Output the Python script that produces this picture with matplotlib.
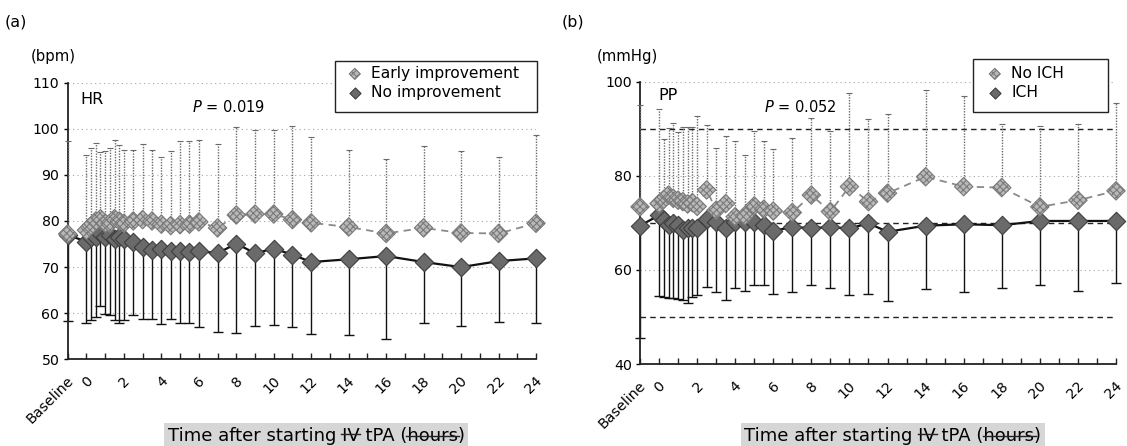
import numpy as np
import matplotlib
matplotlib.use("Agg")
import matplotlib.pyplot as plt
from matplotlib.patches import Rectangle
from matplotlib.lines import Line2D
from matplotlib.transforms import ScaledTranslation

plt.rcParams['font.family'] = ['DejaVu Sans']
plt.rcParams['hatch.color'] = '#555555'
plt.rcParams['hatch.linewidth'] = 0.8

# ---------------- data ----------------
# time after starting IV tPA (hours); -1 stands for "Baseline"
times = [-1, 0, 0.25, 0.5, 0.75, 1, 1.25, 1.5, 1.75, 2, 2.5, 3, 3.5, 4, 4.5,
         5, 5.5, 6, 7, 8, 9, 10, 11, 12, 14, 16, 18, 20, 22, 24]
tick_pos = [-1, 0, 2, 4, 6, 8, 10, 12, 14, 16, 18, 20, 22, 24]
tick_labels = ['Baseline', '0', '2', '4', '6', '8', '10', '12', '14', '16',
               '18', '20', '22', '24']
minor_pos = [1, 3, 5, 7, 9, 11, 13, 15, 17, 19, 21, 23]

# (a) HR (bpm)
hr_early = [77.2, 78.0, 79.0, 80.0, 80.5, 79.5, 79.5, 80.5, 80.0, 79.5, 80.0,
            80.3, 80.0, 79.3, 79.0, 79.2, 79.3, 79.8, 78.5, 81.3, 81.5, 81.5,
            80.3, 79.6, 78.7, 77.3, 78.5, 77.4, 77.3, 79.5]
hr_early_upper = [97.4, 94.4, 95.8, 97.0, 95.0, 95.2, 95.8, 97.5, 96.5, 95.5,
                  95.5, 96.8, 95.5, 93.8, 95.2, 97.3, 97.4, 97.6, 96.6, 100.4,
                  99.7, 99.7, 100.7, 98.3, 95.4, 93.4, 96.3, 95.2, 93.9, 98.6]
hr_none = [77.0, 75.5, 76.5, 76.5, 77.5, 76.5, 77.0, 76.0, 76.5, 76.0, 75.5,
           74.4, 73.8, 74.0, 73.5, 73.4, 73.3, 73.5, 73.0, 75.1, 73.0, 74.0,
           72.7, 71.1, 71.7, 72.4, 71.1, 70.0, 71.3, 71.9]
hr_none_lower = [58.3, 57.9, 58.5, 59.1, 61.5, 59.9, 59.6, 58.6, 57.8, 58.6,
                 59.6, 58.8, 58.8, 57.6, 58.8, 57.9, 57.8, 56.9, 55.9, 55.7,
                 57.2, 57.4, 57.0, 55.4, 55.2, 54.5, 57.8, 57.2, 58.0, 57.8]

# (b) PP (mmHg)
pp_noich = [73.4, 74.1, 75.0, 75.9, 75.2, 74.8, 74.5, 74.0, 74.3, 73.5, 77.0,
            72.7, 74.1, 71.3, 71.5, 73.6, 72.9, 72.5, 72.2, 75.9, 72.4, 77.7,
            74.5, 76.3, 79.8, 77.7, 77.5, 73.4, 74.8, 76.8]
pp_noich_upper = [95.0, 94.3, 87.8, 90.1, 91.3, 89.4, 90.4, 90.3, 90.4, 92.7,
                  90.8, 86.0, 88.4, 87.4, 84.4, 89.6, 87.4, 85.6, 88.1, 92.2,
                  89.6, 97.5, 92.0, 93.1, 98.2, 97.0, 91.1, 90.6, 91.1, 95.5]
pp_ich = [69.4, 71.6, 70.6, 69.5, 70.0, 69.5, 68.4, 68.9, 68.9, 69.0, 70.9,
          70.2, 68.8, 70.2, 70.2, 70.2, 69.5, 68.3, 69.1, 68.9, 69.1, 68.8,
          69.9, 68.1, 69.4, 69.7, 69.5, 70.4, 70.4, 70.4]
pp_ich_lower = [45.6, 54.5, 54.3, 54.0, 54.0, 53.9, 53.7, 52.9, 54.3, 54.6,
                56.3, 55.3, 53.6, 56.2, 55.5, 56.7, 56.7, 54.8, 55.3, 56.7,
                56.2, 54.6, 54.8, 53.3, 55.9, 55.3, 56.2, 56.7, 55.5, 57.2]

W, H = 1127, 446
fig = plt.figure(figsize=(W / 100, H / 100), dpi=100)


def fx(px):
    return px / W


def fy(py):
    return 1 - py / H


axA = fig.add_axes([fx(67.7), fy(359.3), fx(536) - fx(67.7), fy(82.7) - fy(359.3)])
axB = fig.add_axes([fx(640), fy(364), fx(1116) - fx(640), fy(81.7) - fy(364)])

MS = 88
LIGHT_FC = '#b9b9b9'
LIGHT_EC = '#7a7a7a'
DARK_FC = '#6a6a6a'
DARK_EC = '#3e3e3e'


def panel(ax, light, light_up, dark, dark_lo, ylim, yticks, grid_vals):
    t = np.array(times, dtype=float)
    lm = np.array(light)
    lu = np.array(light_up)
    dm = np.array(dark)
    dl = np.array(dark_lo)
    zeros = np.zeros_like(lm)

    for g in grid_vals:
        ax.axhline(g, color='#a5a5a5', lw=0.8, ls=(0, (1, 3)), zorder=0)

    # dark series (drawn first)
    ax.plot(t, dm, color='#111111', lw=1.6, zorder=3, clip_on=False)
    ax.errorbar(t, dm, yerr=[dm - dl, zeros], fmt='none', ecolor='#111111',
                elinewidth=1.0, capsize=3.5, capthick=1.0, zorder=2,
                clip_on=False)
    sd = ax.scatter(t, dm, marker='D', s=MS, facecolor=DARK_FC,
                    edgecolor=DARK_EC, linewidths=0.8, zorder=4, clip_on=False)
    # light series
    ax.plot(t, lm, color='#8a8a8a', lw=1.3, ls=(0, (4, 3)), zorder=5,
            clip_on=False)
    eb = ax.errorbar(t, lm, yerr=[zeros, lu - lm], fmt='none',
                     ecolor='#6a6a6a', elinewidth=1.0, capsize=2.5,
                     capthick=0.8, zorder=5, clip_on=False)
    for c in eb[2]:
        c.set_linestyle((0, (1, 1)))
    sl = ax.scatter(t, lm, marker='D', s=MS, facecolor=LIGHT_FC,
                    edgecolor=LIGHT_EC, hatch='xxxxx', linewidths=0.8,
                    zorder=6, clip_on=False)

    ax.set_xlim(-1, 24)
    ax.set_ylim(*ylim)
    ax.set_yticks(yticks)
    ax.set_xticks(tick_pos)
    ax.set_xticks(minor_pos, minor=True)
    ax.set_xticklabels(tick_labels, rotation=45, ha='right', va='center',
                       rotation_mode='anchor', fontsize=10.2)
    ax.tick_params(axis='x', which='both', direction='in', length=4,
                   width=1, pad=14, color='#222222')
    ax.tick_params(axis='y', direction='out', length=3, width=1, pad=3,
                   labelsize=10.2)
    off = ScaledTranslation(4 / 100, 0, fig.dpi_scale_trans)
    for lbl in ax.get_xticklabels():
        lbl.set_transform(lbl.get_transform() + off)
    for s in ('top', 'right'):
        ax.spines[s].set_visible(False)
    for s in ('left', 'bottom'):
        ax.spines[s].set_linewidth(1.3)
        ax.spines[s].set_color('#222222')
    ax.set_facecolor('none')
    return sl, sd


slA, sdA = panel(axA, hr_early, hr_early_upper, hr_none, hr_none_lower,
                 (50, 110), [50, 60, 70, 80, 90, 100, 110],
                 [60, 70, 80, 90, 100, 110])
slB, sdB = panel(axB, pp_noich, pp_noich_upper, pp_ich, pp_ich_lower,
                 (40, 100), [40, 60, 80, 100], [60, 80, 100])
for ref in (90, 70, 50):
    axB.axhline(ref, color='#222222', lw=1.0, ls=(0, (4, 3)), zorder=1)

# panel texts
fig.text(fx(5), fy(22), '(a)', fontsize=11.4, va='center', ha='left')
fig.text(fx(562), fy(22), '(b)', fontsize=11.4, va='center', ha='left')
fig.text(fx(31), fy(57), '(bpm)', fontsize=10.7, va='center', ha='left')
fig.text(fx(597), fy(57), '(mmHg)', fontsize=10.7, va='center', ha='left')
fig.text(fx(80), fy(99), 'HR', fontsize=11.5, va='center', ha='left')
fig.text(fx(658), fy(95), 'PP', fontsize=11.5, va='center', ha='left')
fig.text(fx(192), fy(106.5), r'$\it{P}$ = 0.019', fontsize=10.5,
         va='center', ha='left')
fig.text(fx(764), fy(106.5), r'$\it{P}$ = 0.052', fontsize=10.5,
         va='center', ha='left')

# legends with manual frames
fig.add_artist(Rectangle((fx(335), fy(112)), fx(537) - fx(335),
                         fy(61) - fy(112), transform=fig.transFigure,
                         facecolor='white', edgecolor='#222222', lw=1.0,
                         zorder=3))
fig.add_artist(Rectangle((fx(972.7), fy(112)), fx(1107.7) - fx(972.7),
                         fy(59) - fy(112), transform=fig.transFigure,
                         facecolor='white', edgecolor='#222222', lw=1.0,
                         zorder=3))
legA = fig.legend([slA, sdA], ['Early improvement', 'No improvement'],
                  loc='upper left', bbox_to_anchor=(fx(347), fy(66)),
                  frameon=False, borderpad=0, handlelength=1.0,
                  handletextpad=0.55, labelspacing=0.25, scatterpoints=1,
                  markerscale=0.6, fontsize=11.2, borderaxespad=0)
legA.set_zorder(4)
legB = fig.legend([slB, sdB], ['No ICH', 'ICH'],
                  loc='upper left', bbox_to_anchor=(fx(987), fy(66)),
                  frameon=False, borderpad=0, handlelength=1.0,
                  handletextpad=0.55, labelspacing=0.25, scatterpoints=1,
                  markerscale=0.6, fontsize=11.2, borderaxespad=0)
legB.set_zorder(4)

# x-axis titles with struck-through words
fig.canvas.draw()
renderer = fig.canvas.get_renderer()
label = 'Time after starting IV tPA (hours)'
FS = 13.0
em = FS * 100 / 72
for cx in (316, 893):
    txt = fig.text(fx(cx), fy(441), label, fontsize=FS, ha='center',
                   va='baseline', zorder=5,
                   bbox=dict(boxstyle='square,pad=0.2', fc='#d6d6d6',
                             ec='none'))
    fp = txt.get_fontproperties()

    def wid(s):
        return renderer.get_text_width_height_descent(s, fp, ismath=False)[0]

    total = wid(label)
    left = cx - total / 2
    iv_end = wid('Time after starting IV')
    iv_start = iv_end - wid('IV')
    h_end = wid('Time after starting IV tPA (hours')
    h_start = h_end - wid('hours')
    for a, b, ys in ((iv_start, iv_end, 441 - 0.37 * em),
                     (h_start, h_end, 441 - 0.30 * em)):
        fig.add_artist(Line2D([fx(left + a - 1), fx(left + b + 1)],
                              [fy(ys), fy(ys)],
                              transform=fig.transFigure, color='#222222',
                              lw=1.0, zorder=10))

fig.savefig('out.png', dpi=100)
